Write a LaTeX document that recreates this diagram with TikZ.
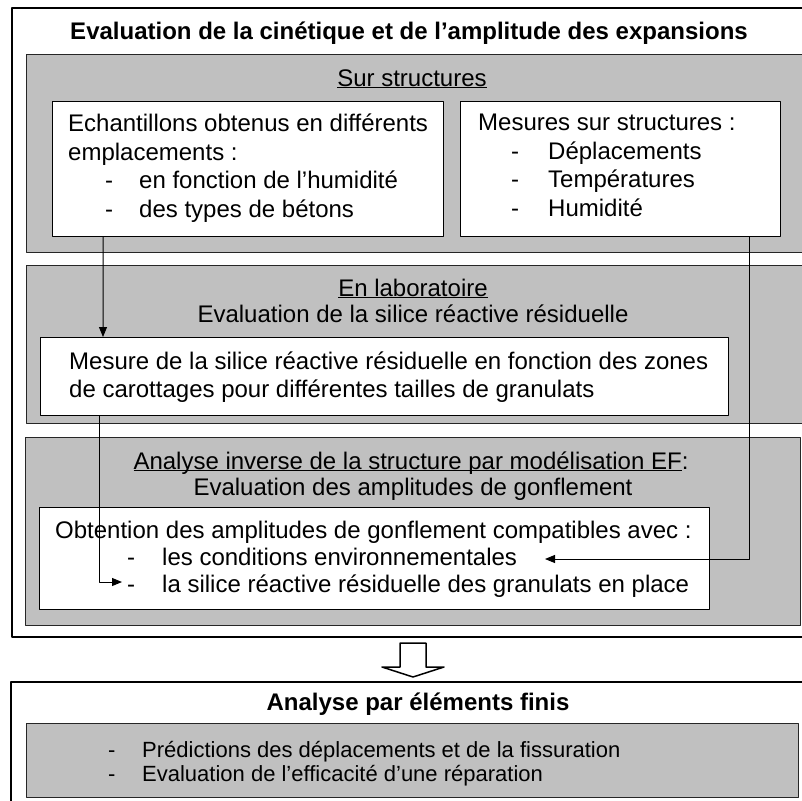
\documentclass[tikz,border=0pt]{standalone}
\usepackage{fontspec}
\setmainfont{Liberation Sans}
\usetikzlibrary{arrows.meta}
\definecolor{panelgray}{RGB}{192,192,192}
\newcommand{\undl}[1]{\underline{\smash{#1}}}
\tikzset{
    txt/.style={anchor=north west, inner sep=0pt, align=left}
}

\begin{document}
\begin{tikzpicture}[x=1bp,y=1bp, line cap=round, line join=round,
  font=\fontsize{24bp}{28.5bp}\selectfont]

\tikzset{
  frame/.style={draw=black, line width=2bp},
  panel/.style={draw=black!85, fill=panelgray, line width=1bp},
  wbox/.style={draw=black, fill=white, line width=1bp, anchor=north west, inner sep=0pt},
  head/.style={anchor=base},
  bold/.style={font=\fontsize{24bp}{28.5bp}\selectfont\bfseries},
  arr/.style={-{Triangle[length=10bp,width=8bp]}, line width=1bp}
}

\useasboundingbox (0,0) rectangle (802,-801);

% upper frame
\draw[frame] (12,-8) rectangle (806,-637);
\node[head, bold] (title) at (409,-40) {Evaluation de la cinétique et de l’amplitude des expansions};

% on structures
\draw[panel] (26,-55) rectangle (804,-252);
\node[head] (sur) at (412,-86) {\undl{Sur structures}};
\node[wbox, minimum width=391bp, minimum height=135bp] (ech) at (52,-101) {};
\node[txt] (echtext) at ([xshift=16bp,yshift=-13bp]ech.north west)
  {Echantillons obtenus en différents\\emplacements :\\
   \hspace*{37bp}\makebox[34bp][l]{-}en fonction de l’humidité\\
   \hspace*{37bp}\makebox[34bp][l]{-}des types de bétons};
\node[wbox, minimum width=320bp, minimum height=135bp] (mes) at (460,-101) {};
\node[txt] (mestext) at ([xshift=18bp,yshift=-13bp]mes.north west)
  {Mesures sur structures :\\
   \hspace*{33bp}\makebox[37bp][l]{-}Déplacements\\
   \hspace*{33bp}\makebox[37bp][l]{-}Températures\\
   \hspace*{33bp}\makebox[37bp][l]{-}Humidité};

% laboratory
\draw[panel] (26,-265) rectangle (804,-423);
\node[head] (labo) at (413,-296) {\undl{En laboratoire}};
\node[head] (silres) at (413,-322) {Evaluation de la silice réactive résiduelle};
\node[wbox, minimum width=688bp, minimum height=78bp] (lab) at (40,-337) {};
\node[txt] (labtext) at ([xshift=29bp,yshift=-14.5bp]lab.north west)
  {Mesure de la silice réactive résiduelle en fonction des zones\\
   de carottages pour différentes tailles de granulats};

% inverse analysis
\draw[panel] (25,-437) rectangle (800,-625);
\node[head] (inv) at (411,-469) {\undl{Analyse inverse de la structure par modélisation EF}:};
\node[head] (gonf) at (413,-495) {Evaluation des amplitudes de gonflement};
\node[wbox, minimum width=670bp, minimum height=102bp] (obt) at (39,-507) {};
\node[txt, font=\fontsize{24bp}{27bp}\selectfont] (obttext) at ([xshift=16bp,yshift=-13.5bp]obt.north west)
  {Obtention des amplitudes de gonflement compatibles avec :\\
   \hspace*{72bp}\makebox[35bp][l]{-}les conditions environnementales\\
   \hspace*{72bp}\makebox[35bp][l]{-}la silice réactive résiduelle des granulats en place};
\coordinate (envir) at (545,-559);
\coordinate (silice) at (122,-582);

% links
\draw[arr] ([xshift=51bp]ech.south west) -- ([xshift=63bp]lab.north west);
\draw[arr] ([xshift=59bp]lab.south west) |- (silice);
\draw[arr] ([xshift=289bp]mes.south west) |- (envir);

% block arrow
\draw[line width=1.5bp, fill=white] (400,-643) -- (426,-643) -- (426,-667) -- (444,-667)
  -- (413,-677) -- (382,-667) -- (400,-667) -- cycle;

% finite elements
\draw[frame] (11,-682) rectangle (806,-806);
\node[head, bold] (fin) at (418,-710) {Analyse par éléments finis};
\draw[panel] (26,-723) rectangle (798,-797);
\node[txt, font=\fontsize{22bp}{24bp}\selectfont] (fintext) at (108,-741)
  {\makebox[34bp][l]{-}Prédictions des déplacements et de la fissuration\\
   \makebox[34bp][l]{-}Evaluation de l’efficacité d’une réparation};

\end{tikzpicture}
\end{document}
